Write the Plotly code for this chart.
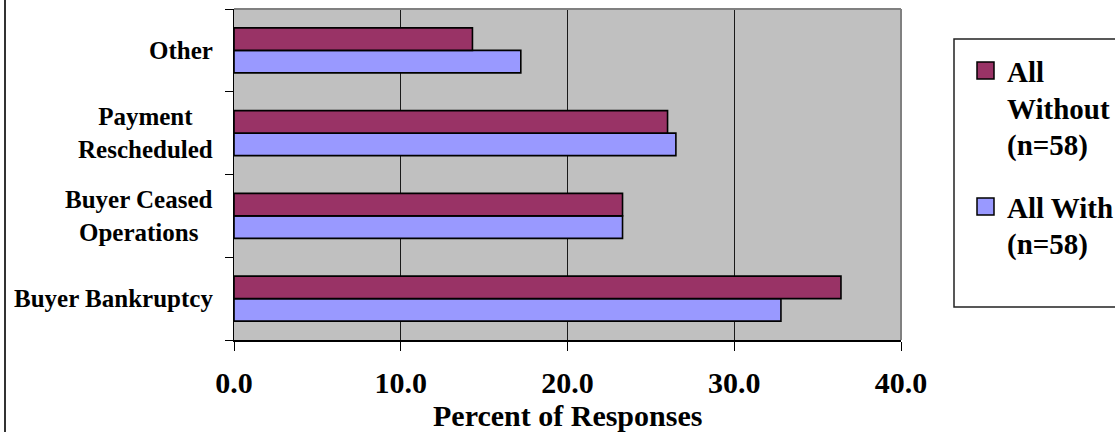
import plotly.graph_objects as go

# Reasons for payment problems, percent of responses
categories = ["Buyer Bankruptcy", "Buyer Ceased Operations", "Payment Rescheduled", "Other"]
category_labels = ["Buyer Bankruptcy", "Buyer Ceased<br>Operations", "Payment<br>Rescheduled", "Other"]
all_without = [36.4, 23.3, 26.0, 14.3]
all_with = [32.8, 23.3, 26.5, 17.2]
x_ticks = [0, 10, 20, 30, 40]

series_without_lines = ["All", "Without", "(n=58)"]
series_with_lines = ["All With", "(n=58)"]
x_title = "Percent of Responses"

MAROON = "#993366"
PERIWINKLE = "#9999FF"
FONT = "Liberation Serif"

W, H = 1115, 432
L, R, T, B = 234, 214, 9, 92
PW, PH = W - L - R, H - T - B


def px(x):
    """Pixel column -> paper x."""
    return (x - L) / PW


def py(y):
    """Pixel row -> paper y."""
    return (H - B - y) / PH


fig = go.Figure()
fig.add_bar(
    y=categories, x=all_with, orientation="h", name="All With (n=58)",
    marker=dict(color=PERIWINKLE, line=dict(color="black", width=1.6)),
    showlegend=False,
)
fig.add_bar(
    y=categories, x=all_without, orientation="h", name="All Without (n=58)",
    marker=dict(color=MAROON, line=dict(color="black", width=1.6)),
    showlegend=False,
)

annotations = []
# category labels, centred line by line
for cat, lab in zip(categories, category_labels):
    annotations.append(dict(
        x=px(215), xref="paper", y=cat, yref="y", text=lab,
        xanchor="right", yanchor="middle", align="center", showarrow=False,
        font=dict(family=FONT, size=25, color="black", weight="bold"),
    ))

# axis title, centred under the plot area
annotations.append(dict(
    x=0.5, xref="paper", y=py(415), yref="paper", text=x_title,
    xanchor="center", yanchor="middle", showarrow=False,
    font=dict(family=FONT, size=30, color="black", weight="bold"),
))

# legend text
legend_font = dict(family=FONT, size=29, color="black", weight="bold")
for i, line in enumerate(series_without_lines):
    annotations.append(dict(
        x=px(1005), xref="paper", y=py(72 + 36.5 * i), yref="paper", text=line,
        xanchor="left", yanchor="middle", showarrow=False, font=legend_font,
    ))
for i, line in enumerate(series_with_lines):
    annotations.append(dict(
        x=px(1005), xref="paper", y=py(208 + 36.5 * i), yref="paper", text=line,
        xanchor="left", yanchor="middle", showarrow=False, font=legend_font,
    ))

shapes = [
    # outer chart frame edge
    dict(type="line", xref="paper", yref="paper", x0=px(5), x1=px(5), y0=py(-5), y1=py(440),
         line=dict(color="#333333", width=2)),
    # plot-area border (top and right)
    dict(type="line", xref="paper", yref="paper", x0=0, x1=1, y0=1, y1=1,
         line=dict(color="#808080", width=2), layer="above"),
    dict(type="line", xref="paper", yref="paper", x0=1, x1=1, y0=0, y1=1,
         line=dict(color="#808080", width=2), layer="above"),
    # legend box
    dict(type="rect", xref="paper", yref="paper", x0=px(954), x1=px(1140), y0=py(307), y1=py(39),
         line=dict(color="#222222", width=1.5), fillcolor="white"),
    # legend swatches
    dict(type="rect", xref="paper", yref="paper", x0=px(977), x1=px(994), y0=py(79), y1=py(62),
         line=dict(color="black", width=1.5), fillcolor=MAROON),
    dict(type="rect", xref="paper", yref="paper", x0=px(977), x1=px(994), y0=py(215), y1=py(198),
         line=dict(color="black", width=1.5), fillcolor=PERIWINKLE),
]

fig.update_layout(
    width=W, height=H,
    margin=dict(l=L, r=R, t=T, b=B, pad=0),
    paper_bgcolor="white",
    plot_bgcolor="#C0C0C0",
    barmode="group",
    bargap=0.456,
    bargroupgap=0,
    showlegend=False,
    annotations=annotations,
    shapes=shapes,
    xaxis=dict(
        range=[0, 40], tickvals=x_ticks, tickformat=".1f",
        ticks="outside", ticklen=9, tickcolor="black", tickwidth=1,
        showgrid=True, gridcolor="#1a1a1a", gridwidth=1,
        showline=True, linecolor="black", linewidth=1.5,
        zeroline=False, ticklabelstandoff=6,
        tickfont=dict(family=FONT, size=30, color="black", weight="bold"),
        fixedrange=True,
    ),
    yaxis=dict(
        type="category", categoryorder="array", categoryarray=categories,
        range=[-0.5, 3.5], tickson="boundaries",
        ticks="outside", ticklen=8, tickcolor="black", tickwidth=1,
        showticklabels=False, showgrid=False,
        showline=True, linecolor="black", linewidth=1,
        zeroline=False, fixedrange=True,
    ),
)

fig.write_html("out.html")
